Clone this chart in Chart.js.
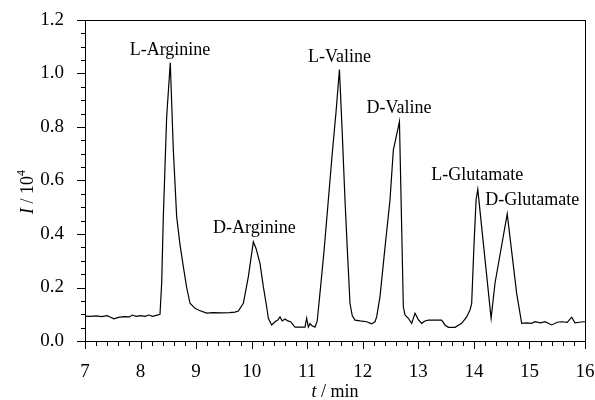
<!DOCTYPE html>
<html>
<head>
<meta charset="utf-8">
<script src="https://cdn.jsdelivr.net/npm/chart.js@4.4.0/dist/chart.umd.min.js"></script>
<style>
    html, body { margin: 0; padding: 0; background: #fff; }
</style>
</head>
<body>
<canvas id="chromatogram" width="595" height="400"></canvas>
<script>
// retention time (min) and signal (I / 10^4)
const times = [
    7.00, 7.10, 7.20, 7.30, 7.40, 7.45, 7.52, 7.60, 7.70, 7.80, 7.85, 7.92, 8.00, 8.08, 8.15, 8.22, 8.30,
    8.35, 8.38, 8.41, 8.47, 8.535, 8.59, 8.65, 8.71, 8.77, 8.83, 8.89, 8.98, 9.05, 9.19, 9.30, 9.45, 9.60,
    9.70, 9.76, 9.85, 9.94, 10.03, 10.08, 10.15, 10.21, 10.27, 10.30, 10.36, 10.42, 10.47, 10.51, 10.55,
    10.60, 10.65, 10.70, 10.78, 10.90, 10.96, 10.99, 11.02, 11.05, 11.08, 11.14, 11.18, 11.23, 11.30,
    11.38, 11.45, 11.52, 11.58, 11.63, 11.68, 11.72, 11.77, 11.81, 11.86, 11.95, 12.07, 12.16, 12.22,
    12.25, 12.31, 12.40, 12.49, 12.55, 12.66, 12.73, 12.76, 12.82, 12.88, 12.94, 13.00, 13.06, 13.12,
    13.18, 13.30, 13.42, 13.48, 13.54, 13.66, 13.78, 13.87, 13.93, 13.96, 14.00, 14.04, 14.07, 14.31,
    14.38, 14.60, 14.77, 14.86, 14.95, 15.04, 15.10, 15.20, 15.28, 15.40, 15.50, 15.58, 15.68, 15.76,
    15.82, 15.90, 15.97, 16.00
];
const intensity = [
    0.093, 0.092, 0.094, 0.091, 0.095, 0.090, 0.083, 0.088, 0.091, 0.090, 0.097, 0.092, 0.095, 0.092, 0.097, 0.092, 0.097,
    0.100, 0.216, 0.465, 0.838, 1.040, 0.714, 0.465, 0.360, 0.278, 0.200, 0.141, 0.122, 0.115, 0.104, 0.106, 0.105, 0.106,
    0.108, 0.112, 0.141, 0.240, 0.371, 0.345, 0.290, 0.203, 0.128, 0.085, 0.060, 0.072, 0.078, 0.090, 0.075,
    0.082, 0.075, 0.072, 0.052, 0.052, 0.052, 0.085, 0.052, 0.065, 0.058, 0.052, 0.075, 0.180, 0.330,
    0.527, 0.700, 0.860, 1.015, 0.780, 0.527, 0.350, 0.140, 0.095, 0.078, 0.075, 0.072, 0.064, 0.072,
    0.090, 0.166, 0.350, 0.527, 0.714, 0.820, 0.128, 0.097, 0.085, 0.066, 0.104, 0.080, 0.066, 0.075,
    0.078, 0.078, 0.078, 0.060, 0.051, 0.051, 0.066, 0.090, 0.116, 0.140, 0.350, 0.530, 0.567, 0.085,
    0.216, 0.475, 0.178, 0.066, 0.068, 0.066, 0.072, 0.068, 0.072, 0.060, 0.070, 0.072, 0.070, 0.089,
    0.068, 0.070, 0.072, 0.072
];

// peak annotations (centre x in min, baseline y in I / 10^4)
const peakNames = ['L-Arginine', 'D-Arginine', 'L-Valine', 'D-Valine', 'L-Glutamate', 'D-Glutamate'];
const peakLabelT = [8.53, 10.05, 11.58, 12.65, 14.06, 15.05];
const peakLabelI = [1.069, 0.404, 1.044, 0.851, 0.602, 0.508];

const xRange = [7, 16];
const yRange = [0, 1.2];

const serif = '"Liberation Serif", "DejaVu Serif", serif';

// frame, outward ticks (major + minor), peak names and axis titles
const chromPlugin = {
    id: 'chromPlugin',
    afterDraw(chart) {
        const ctx = chart.ctx;
        const area = chart.chartArea;
        const xs = chart.scales.x;
        const ys = chart.scales.y;

        ctx.save();
        ctx.fillStyle = '#000';
        const L = Math.round(area.left), R = Math.round(area.right);
        const T = Math.round(area.top), B = Math.round(area.bottom);
        ctx.fillRect(L, T, R - L + 1, 1);
        ctx.fillRect(L, B, R - L + 1, 1);
        ctx.fillRect(L, T, 1, B - T + 1);
        ctx.fillRect(R, T, 1, B - T + 1);

        for (let i = 0; i <= 45; i++) {
            const px = Math.round(xs.getPixelForValue(xRange[0] + i * 0.2));
            const len = i % 5 === 0 ? 7 : 4;
            ctx.fillRect(px, B, 1, len + 1);
        }
        for (let i = 0; i <= 24; i++) {
            const py = Math.round(ys.getPixelForValue(i * 0.05));
            const len = i % 4 === 0 ? 8 : 4;
            ctx.fillRect(L - len, py, len + 1, 1);
        }

        // peak names
        ctx.font = '18px ' + serif;
        ctx.textAlign = 'center';
        ctx.textBaseline = 'alphabetic';
        peakNames.forEach((name, i) => {
            ctx.fillText(name, xs.getPixelForValue(peakLabelT[i]), ys.getPixelForValue(peakLabelI[i]));
        });

        // x title: t / min
        ctx.textAlign = 'left';
        const xParts = [['italic 18px ' + serif, 't'], ['18px ' + serif, ' / min']];
        let w = 0;
        xParts.forEach(p => { ctx.font = p[0]; w += ctx.measureText(p[1]).width; });
        let cx = (area.left + area.right) / 2 - w / 2;
        xParts.forEach(p => {
            ctx.font = p[0];
            ctx.fillText(p[1], cx, 397);
            cx += ctx.measureText(p[1]).width;
        });

        // y title: I / 10^4
        ctx.translate(33, 192);
        ctx.rotate(-Math.PI / 2);
        const yParts = [['italic 18px ' + serif, 'I', 0], ['18px ' + serif, ' / 10', 0], ['12px ' + serif, '4', -8]];
        w = 0;
        yParts.forEach(p => { ctx.font = p[0]; w += ctx.measureText(p[1]).width; });
        cx = -w / 2;
        yParts.forEach(p => {
            ctx.font = p[0];
            ctx.fillText(p[1], cx, p[2]);
            cx += ctx.measureText(p[1]).width;
        });
        ctx.restore();
    }
};

const points = times.map((t, i) => ({ x: t, y: intensity[i] }));

new Chart(document.getElementById('chromatogram'), {
    type: 'line',
    data: {
        datasets: [{
            data: points,
            borderColor: '#000',
            borderWidth: 1.2,
            pointRadius: 0,
            tension: 0,
            fill: false
        }]
    },
    options: {
        responsive: false,
        animation: false,
        layout: { padding: { top: 20, right: 10, left: 0, bottom: 0 } },
        plugins: {
            legend: { display: false },
            tooltip: { enabled: false }
        },
        scales: {
            x: {
                type: 'linear',
                min: xRange[0],
                max: xRange[1],
                grid: { display: false },
                border: { display: false },
                ticks: {
                    stepSize: 1,
                    color: '#000',
                    padding: 12,
                    maxRotation: 0,
                    font: { family: serif, size: 19 }
                },
                afterFit(scale) {
                    scale.height = 59;
                    scale.paddingLeft = 0;
                    scale.paddingRight = 0;
                }
            },
            y: {
                min: yRange[0],
                max: yRange[1],
                grid: { display: false },
                border: { display: false },
                ticks: {
                    stepSize: 0.2,
                    color: '#000',
                    padding: 13,
                    font: { family: serif, size: 19 },
                    callback: v => v.toFixed(1)
                },
                afterFit(scale) {
                    scale.width = 85;
                    scale.paddingTop = 0;
                    scale.paddingBottom = 0;
                }
            }
        }
    },
    plugins: [chromPlugin]
});
</script>
</body>
</html>
